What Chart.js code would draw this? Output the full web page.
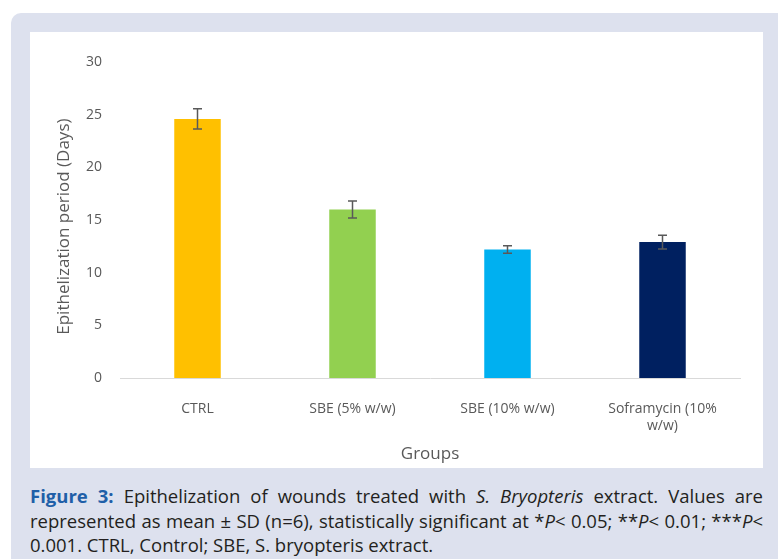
<!DOCTYPE html>
<html>
<head>
<meta charset="utf-8">
<title>Figure 3</title>
<script src="https://cdn.jsdelivr.net/npm/chart.js@4/dist/chart.umd.min.js"></script>
<style>
  html, body { margin: 0; padding: 0; background: #fff; }
  body { width: 778px; height: 559px; position: relative; overflow: hidden; }
  #panel {
    position: absolute; left: 11px; top: 13px; width: 790px; height: 570px;
    background: #dde1ee; border-radius: 10px;
  }
  #box {
    position: absolute; left: 30px; top: 32px; width: 733px; height: 436px;
    background: #fff;
  }
  #caption {
    position: absolute; left: 30px; top: 484px; width: 733px;
    font-family: "Open Sans", sans-serif;
    font-size: 18.5px; line-height: 24.5px; color: #231f20;
  }
  #caption div { text-align: justify; text-align-last: justify; white-space: nowrap; }
  #caption div.last { text-align-last: left; }
  #caption b { color: #1f5fa8; }
</style>
</head>
<body>
<div id="panel"></div>
<div id="box"><canvas id="chart"></canvas></div>
<div id="caption">
  <div><b>Figure 3:</b> Epithelization of wounds treated with <i>S. Bryopteris</i> extract. Values are</div>
  <div>represented as mean ± SD (n=6), statistically significant at *<i>P</i>&lt; 0.05; **<i>P</i>&lt; 0.01; ***<i>P</i>&lt;</div>
  <div class="last">0.001. CTRL, Control; SBE, S. bryopteris extract.</div>
</div>
<script>
// values
var groups = ["CTRL", "SBE (5% w/w)", "SBE (10% w/w)", ["Soframycin (10%", "w/w)"]];
var meanDays = [24.6, 16.0, 12.2, 12.9];
var sdDays = [0.95, 0.8, 0.35, 0.65];
var barColors = ["#ffc000", "#92d050", "#00b0f0", "#002060"];

// draws the +/- SD whiskers on top of each bar
var errorBars = {
  id: "errorBars",
  afterDatasetsDraw: function(chart) {
    var ctx = chart.ctx;
    var y = chart.scales.y;
    var meta = chart.getDatasetMeta(0);
    ctx.save();
    ctx.strokeStyle = "#595959";
    ctx.lineWidth = 1.5;
    meta.data.forEach(function(bar, i) {
      var top = y.getPixelForValue(meanDays[i] + sdDays[i]);
      var bot = y.getPixelForValue(meanDays[i] - sdDays[i]);
      var cap = 4.5;
      ctx.beginPath();
      ctx.moveTo(bar.x, top); ctx.lineTo(bar.x, bot);
      ctx.moveTo(bar.x - cap, top); ctx.lineTo(bar.x + cap, top);
      ctx.moveTo(bar.x - cap, bot); ctx.lineTo(bar.x + cap, bot);
      ctx.stroke();
    });
    ctx.restore();
  }
};

var tickFont = { family: "'Open Sans', sans-serif", size: 14 };
var titleFont = { family: "'Open Sans', sans-serif", size: 17 };

new Chart(document.getElementById("chart"), {
  type: "bar",
  data: {
    labels: groups,
    datasets: [{
      data: meanDays,
      backgroundColor: barColors,
      categoryPercentage: 0.6,
      barPercentage: 0.5
    }]
  },
  options: {
    responsive: true,
    maintainAspectRatio: false,
    animation: false,
    layout: { padding: { left: 20, right: 23, top: 30, bottom: 0 } },
    plugins: { legend: { display: false }, tooltip: { enabled: false } },
    scales: {
      x: {
        grid: { display: false },
        border: { display: true, color: "#d9d9d9", width: 1 },
        ticks: { color: "#595959", font: tickFont, padding: 15, maxRotation: 0 },
        title: { display: true, text: "Groups", color: "#595959", font: titleFont },
        afterFit: function(scale) { scale.height = 90; }
      },
      y: {
        min: 0,
        max: 30,
        grid: { display: false },
        border: { display: false },
        ticks: { stepSize: 5, color: "#595959", font: tickFont, padding: 10 },
        // trailing spaces nudge the rotated title a little lower, like the original
        title: { display: true, text: "Epithelization period (Days)   ", color: "#595959", font: titleFont },
        afterFit: function(scale) { scale.width = 70; }
      }
    }
  },
  plugins: [errorBars]
});
</script>
</body>
</html>
